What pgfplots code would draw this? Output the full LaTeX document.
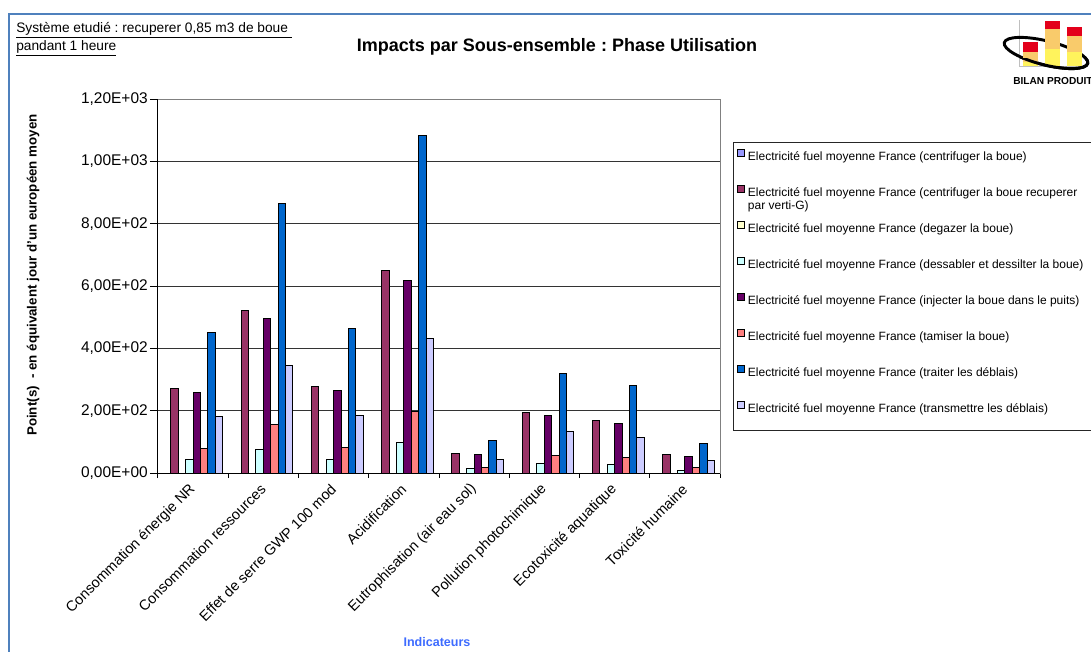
\documentclass[border=0pt]{standalone}
\usepackage{pgfplots}
\pgfplotsset{compat=1.18}
\usepackage{pgfplotstable}
\usepackage{fontspec}
\setmainfont{Liberation Sans}
\frenchspacing
\definecolor{sA}{HTML}{9999FF}
\definecolor{sB}{HTML}{993366}
\definecolor{sC}{HTML}{FFFFCC}
\definecolor{sD}{HTML}{CCFFFF}
\definecolor{sE}{HTML}{660066}
\definecolor{sF}{HTML}{FF8080}
\definecolor{sG}{HTML}{0066CC}
\definecolor{sH}{HTML}{CCCCFF}
\definecolor{frameblue}{HTML}{4F81BD}
\definecolor{lblblue}{HTML}{3D6BFF}
\definecolor{logored}{HTML}{E3001B}
\definecolor{logoorange}{HTML}{F9CB6B}
\definecolor{logoyellow}{HTML}{FFF35C}
\newcommand{\fs}[1]{\fontsize{#1}{#1}\selectfont}
\pgfplotstableread{
x s1 s2 s3 s4 s5 s6 s7 s8
0 0 270 0 42 258 79 450 181
1 0 521 0 76 495 157 866 345
2 0 279 0 42 265 82 464 185
3 0 649 0 98 618 197 1083 433
4 0 64 0 13 60 19 104 44
5 0 194 0 29 183 57 320 132
6 0 169 0 26 159 50 281 113
7 0 58 0 9 53 19 95 41
}\data
\begin{document}
\begin{tikzpicture}
\begin{axis}[
  at={(0,0)}, anchor=south west,
  scale only axis, width=421.5pt, height=280.5pt,
  xmin=-0.5, xmax=7.5, ymin=0, ymax=1200,
  ybar=0pt, bar width=5.546pt,
  axis line style={draw=gray, line width=0.75pt},
  tick align=outside,
  xtick pos=bottom, ytick pos=left,
  xtick={0,...,7},
  minor xtick={-0.5,0.5,...,7.5},
  major tick length=6pt, minor tick length=3.75pt,
  major x tick style={draw=none},
  minor x tick style={black, line width=0.75pt},
  major y tick style={black, line width=0.75pt},
  xticklabels={Consommation énergie NR, Consommation ressources, Effet de serre GWP 100 mod, Acidification, Eutrophisation (air eau sol), Pollution photochimique, Ecotoxicité aquatique, Toxicité humaine},
  xticklabel style={rotate=45, anchor=east, inner sep=0pt, font=\fs{10.9}, xshift=-3pt, yshift=-3pt},
  ytick={0,200,...,1200},
  yticklabels={{0,00E+00},{2,00E+02},{4,00E+02},{6,00E+02},{8,00E+02},{1,00E+03},{1,20E+03}},
  yticklabel style={inner sep=0pt, font=\fs{11.6}, xshift=-1.5pt},
  ymajorgrids, major grid style={black!80, line width=0.75pt},
  xlabel={Indicateurs},
  xlabel style={at={(axis description cs:0.4964,-0.452)}, anchor=center, font=\bfseries\fs{9.4}, text=lblblue},
  ylabel={Point(s) \ - en équivalent jour d'un européen moyen},
  ylabel style={at={(axis description cs:-0.2224,0.5294)}, anchor=center, font=\bfseries\fs{10}},
  every axis plot post/.append style={draw=black, line width=0.75pt,
    legend image code/.code={\draw[##1, draw=black, line width=0.75pt] (0pt,0.6pt) rectangle (5.25pt,5.85pt);}},
  legend style={at={(rel axis cs:1.0302,0.8663)}, anchor=north west, draw=none, fill=none,
    inner sep=0pt, outer sep=0pt, row sep=16.3pt, column sep=2.25pt,
    nodes={inner sep=0pt, text height=7pt, text depth=2pt, font=\fs{9}}},
  legend cell align=left,
  after end axis/.code={
    \draw[black, line width=0.75pt] (rel axis cs:0,1) -- (rel axis cs:0,0) -- (rel axis cs:1,0);
  },
]
\addplot[fill=sA] table[x=x,y=s1]{\data};
\addplot[fill=sB] table[x=x,y=s2]{\data};
\addplot[fill=sC] table[x=x,y=s3]{\data};
\addplot[fill=sD] table[x=x,y=s4]{\data};
\addplot[fill=sE] table[x=x,y=s5]{\data};
\addplot[fill=sF] table[x=x,y=s6]{\data};
\addplot[fill=sG] table[x=x,y=s7]{\data};
\addplot[fill=sH] table[x=x,y=s8]{\data};
\legend{Electricité fuel moyenne France (centrifuger la boue),
  {\raisebox{0pt}[7pt][0pt]{\begin{tabular}[t]{@{}l@{}}Electricité fuel moyenne France (centrifuger la boue recuperer\\[0.4pt]par verti-G)\end{tabular}}},
  Electricité fuel moyenne France (degazer la boue),
  Electricité fuel moyenne France (dessabler et dessilter la boue),
  Electricité fuel moyenne France (injecter la boue dans le puits),
  Electricité fuel moyenne France (tamiser la boue),
  Electricité fuel moyenne France (traiter les déblais),
  Electricité fuel moyenne France (transmettre les déblais)}
\end{axis}
\begin{scope}[shift={(-118.5pt,354.75pt)}, x=0.75pt, y=-0.75pt]
  % frame
  \draw[frameblue, line width=1.5pt] (9,700) -- (9,14) -- (1150,14);
  % legend box
  \draw[black!85, line width=0.75pt] (1150,142) -- (733,142) -- (733,430) -- (1150,430);
  % title
  \node[anchor=center, inner sep=0pt, font=\bfseries\fs{13.5}] at (557,47) {Impacts par Sous-ensemble : Phase Utilisation};
  % top-left note
  \node[anchor=north west, inner sep=0pt, align=left, font=\fontsize{10.3}{13.5}\selectfont] at (16,22)
    {\underline{Système etudié : recuperer 0,85 m3 de boue\ }\\\underline{pandant 1 heure}};
  % logo
  \draw[gray!50, line width=0.5pt] (1019,20) -- (1019,66) -- (1086,66);
  \draw[black, line width=2.2pt, rotate around={-14:(1046,53)}] (1046,53) ellipse (43 and 12);
  \fill[logoyellow] (1023,62) rectangle (1038,66);
  \fill[logoorange] (1023,52) rectangle (1038,62);
  \fill[logored] (1023,42) rectangle (1038,52);
  \fill[logoyellow] (1045,49) rectangle (1060,66);
  \fill[logoorange] (1045,29) rectangle (1060,49);
  \fill[logored] (1045,21) rectangle (1060,29);
  \fill[logoyellow] (1067,52) rectangle (1082,66);
  \fill[logoorange] (1067,36) rectangle (1082,52);
  \fill[logored] (1067,27) rectangle (1082,36);
  \begin{scope}
    \clip (990,58) rectangle (1100,80);
    \draw[black, line width=2.2pt, rotate around={-14:(1046,53)}] (1046,53) ellipse (43 and 12);
  \end{scope}
  \node[anchor=west, inner sep=0pt, font=\bfseries\fs{7.6}] at (1013,81) {BILAN PRODUIT};
  \pgfresetboundingbox
  \useasboundingbox (0,0) rectangle (1091,651);
\end{scope}
\end{tikzpicture}
\end{document}
